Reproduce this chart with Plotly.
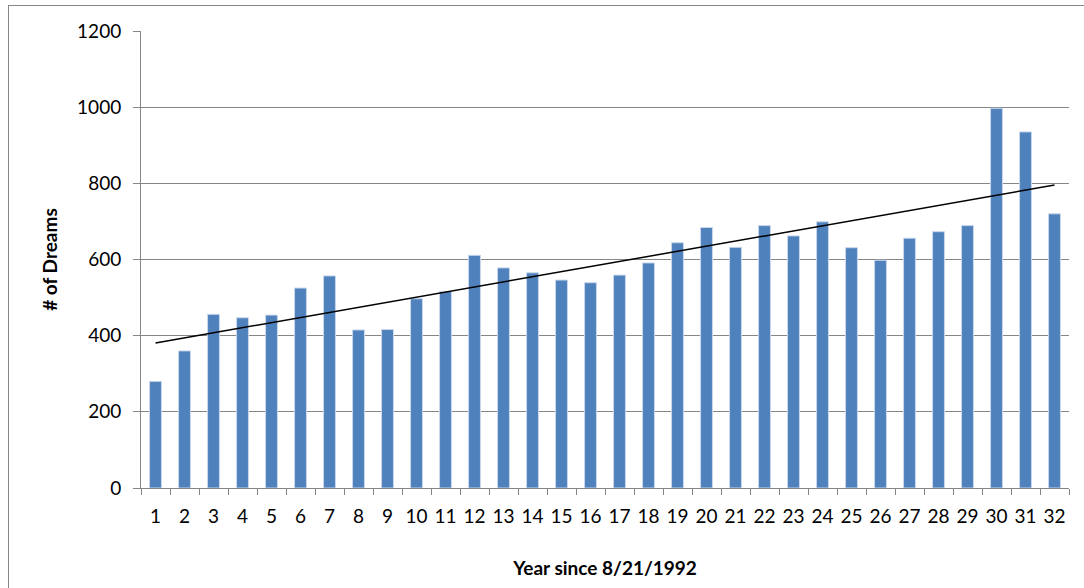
import numpy as np
import plotly.graph_objects as go

# Yearly dream counts
years = [str(i) for i in range(1, 33)]
dreams = [280, 360, 456, 447, 454, 525, 557, 415, 416, 497, 516, 611, 578, 565, 546, 539,
          559, 591, 644, 684, 632, 689, 662, 699, 631, 598, 656, 673, 689, 997, 935, 720]

y_ticks = [0, 200, 400, 600, 800, 1000, 1200]

# Linear trend of counts against year index
idx = np.arange(1, len(dreams) + 1)
slope, intercept = np.polyfit(idx, dreams, 1)
trend = slope * idx + intercept

W, H = 1084, 588
L, R, T, B = 141, 15, 31, 100
pw, ph = W - L - R, H - T - B

def px_x(x):
    return (x - L) / pw

def px_y(y):
    return (H - B - y) / ph

GRID = "#868686"
FONT = "Lato, 'Open Sans', sans-serif"

fig = go.Figure()
fig.add_trace(go.Bar(
    x=years, y=dreams,
    marker=dict(color="#4F81BD", line=dict(color="#C9D7EB", width=1)),
    showlegend=False,
))
fig.add_trace(go.Scatter(
    x=years, y=trend, mode="lines",
    line=dict(color="black", width=1.5),
    showlegend=False,
))

# Chart-area frame
fig.add_shape(type="line", xref="paper", yref="paper",
              x0=px_x(8), x1=px_x(1100), y0=px_y(5.5), y1=px_y(5.5),
              line=dict(color=GRID, width=1))
fig.add_shape(type="line", xref="paper", yref="paper",
              x0=px_x(8.5), x1=px_x(8.5), y0=px_y(5.5), y1=px_y(620),
              line=dict(color=GRID, width=1))

fig.update_layout(
    width=W, height=H,
    margin=dict(l=L, r=R, t=T, b=B),
    paper_bgcolor="white", plot_bgcolor="white",
    bargap=0.59,
    font=dict(family=FONT, size=19, color="black"),
    xaxis=dict(
        type="category",
        tickson="boundaries",
        tickangle=0,
        ticks="outside", ticklen=6, tickcolor=GRID, tickwidth=1,
        showline=True, linecolor=GRID, linewidth=1,
        showgrid=False,
        ticklabelstandoff=11,
        tickfont=dict(size=19),
        title=dict(text="<b>Year since 8/21/1992</b>", font=dict(size=19), standoff=35),
    ),
    yaxis=dict(
        range=[0, 1200], tickvals=y_ticks,
        ticks="outside", ticklen=7, tickcolor=GRID, tickwidth=1,
        showline=True, linecolor=GRID, linewidth=1,
        showgrid=True, gridcolor=GRID, gridwidth=1.2,
        zeroline=False,
        ticklabelstandoff=8,
        tickfont=dict(size=19),
        title=dict(text="<b># of Dreams</b>", font=dict(size=19), standoff=14),
    ),
)

fig.write_html("out.html")
